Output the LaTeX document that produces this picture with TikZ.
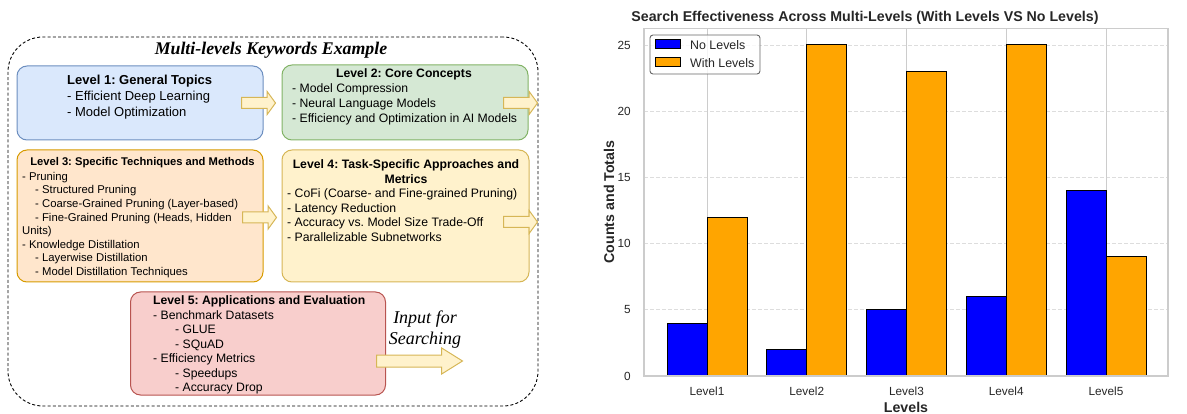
\documentclass[tikz,border=0pt]{standalone}
\usepackage{fontspec}
\setmainfont{Liberation Sans}
\newfontfamily\timesfont{Liberation Serif}
\usetikzlibrary{shapes.arrows}
\frenchspacing

\definecolor{genFill}{HTML}{DAE8FC}
\definecolor{genLine}{HTML}{6C8EBF}
\definecolor{coreFill}{HTML}{D5E8D4}
\definecolor{coreLine}{HTML}{82B366}
\definecolor{techFill}{HTML}{FFE6CC}
\definecolor{techLine}{HTML}{D79B00}
\definecolor{taskFill}{HTML}{FFF2CC}
\definecolor{taskLine}{HTML}{D6B656}
\definecolor{appsFill}{HTML}{F8CECC}
\definecolor{appsLine}{HTML}{B85450}
\definecolor{noBlue}{HTML}{0000FF}
\definecolor{withOrange}{HTML}{FFA500}
\definecolor{gridGray}{HTML}{DDDDDD}
\definecolor{spineGray}{HTML}{CCCCCC}
\definecolor{inkGray}{HTML}{262626}

\begin{document}
\begin{tikzpicture}[x=1pt, y=-1pt]
	\useasboundingbox (0,0) rectangle (1187,414);
	
	% Styles for the keyword boxes
	\tikzstyle{frame} = [rectangle, rounded corners=35pt, draw, line width=0.9pt, dash pattern=on 3pt off 2.2pt]
	\tikzstyle{level} = [rectangle, rounded corners=10pt, draw, line width=1pt]
	\tikzstyle{heading} = [inner sep=0pt, anchor=base]
	\tikzstyle{items} = [inner sep=0pt, align=left, anchor=north west]
	\tikzstyle{pointer} = [single arrow, draw=taskLine, fill=taskFill, line width=1pt, anchor=tail,
	inner xsep=0pt, inner ysep=5pt, minimum height=34pt,
	single arrow head extend=6pt, single arrow tip angle=108]
	
	% Outer dashed frame and title
	\node[frame, minimum width=530pt, minimum height=369pt] (keyframe) at (273,221.5) {};
	\node[heading, font=\timesfont\fontsize{17.8}{20}\selectfont\bfseries\itshape] (frametitle) at (271,55) {Multi-levels Keywords Example};
	
	% Level boxes
	\node[level, fill=genFill, draw=genLine, minimum width=246pt, minimum height=74pt] (general) at (140,103) {};
	\node[level, fill=coreFill, draw=coreLine, minimum width=246pt, minimum height=75pt] (core) at (405,102.5) {};
	\node[level, fill=techFill, draw=techLine, minimum width=246pt, minimum height=132pt] (tech) at (140,216) {};
	\node[level, fill=taskFill, draw=taskLine, minimum width=247pt, minimum height=132pt] (task) at (405.5,216) {};
	\node[level, fill=appsFill, draw=appsLine, minimum width=255pt, minimum height=103pt] (apps) at (258,343.5) {};
	
	% Box texts
	\node[items, font=\fontsize{13}{16}\selectfont] (generaltxt) at (67,75.3) {\textbf{Level 1: General Topics}\\- Efficient Deep Learning\\- Model Optimization};
	
	\node[heading, font=\fontsize{12.2}{15}\selectfont\bfseries] (coretitle) at (404,77.3) {Level 2: Core Concepts};
	\node[items, font=\fontsize{12.2}{15}\selectfont] (coretxt) at (292,83.6) {- Model Compression\\- Neural Language Models\\- Efficiency and Optimization in AI Models};
	
	\node[heading, font=\fontsize{11.2}{13.6}\selectfont\bfseries] (techtitle) at (142.5,165.1) {Level 3: Specific Techniques and Methods};
	\node[items, font=\fontsize{11.3}{13.6}\selectfont] (techtxt) at (22,171.9) {- Pruning\\\hspace{13pt}- Structured Pruning\\\hspace{13pt}- Coarse-Grained Pruning (Layer-based)\\\hspace{13pt}- Fine-Grained Pruning (Heads, Hidden\\Units)\\- Knowledge Distillation\\\hspace{13pt}- Layerwise Distillation\\\hspace{13pt}- Model Distillation Techniques};
	
	\node[heading, align=center, anchor=north, font=\fontsize{12.25}{14.5}\selectfont\bfseries] (tasktitle) at (406,159.6) {Level 4: Task-Specific Approaches and\\Metrics};
	\node[items, font=\fontsize{12.25}{14.6}\selectfont] (tasktxt) at (287,188.6) {- CoFi (Coarse- and Fine-grained Pruning)\\- Latency Reduction\\- Accuracy vs. Model Size Trade-Off\\- Parallelizable Subnetworks};
	
	\node[items, font=\fontsize{12.2}{14.5}\selectfont] (appstxt) at (153,295.7) {\textbf{Level 5: Applications and Evaluation}\\- Benchmark Datasets\\\hspace{22pt}- GLUE\\\hspace{22pt}- SQuAD\\- Efficiency Metrics\\\hspace{22pt}- Speedups\\\hspace{22pt}- Accuracy Drop};
	
	\node[inner sep=0pt, align=center, anchor=north, font=\timesfont\fontsize{18}{21}\selectfont\itshape] (searchtxt) at (425,311) {Input for\\Searching};
	
	% Block arrows
	\node[pointer] (tocore) at (241,103) {};
	\node[pointer] (fromcore) at (503,103) {};
	\node[pointer] (totask) at (242,217.5) {};
	\node[pointer] (fromtask) at (503,222) {};
	\node[pointer, minimum height=86pt, inner ysep=5.5pt, single arrow head extend=7pt, single arrow tip angle=64] (tosearch) at (376,361) {};
	
	% Chart styles
	\tikzstyle{hgrid} = [gridGray, line width=0.8pt, dash pattern=on 4pt off 2pt]
	\tikzstyle{vgrid} = [spineGray, line width=0.8pt]
	\tikzstyle{bar} = [draw=black, line width=1pt]
	\tikzstyle{tick} = [inner sep=0pt, text=inkGray, font=\fontsize{11.8}{14}\selectfont]
	\tikzstyle{axislabel} = [inner sep=0pt, anchor=base, text=inkGray, font=\fontsize{14.2}{17}\selectfont\bfseries]
	
	\node[axislabel] (charttitle) at (865,21.6) {Search Effectiveness Across Multi-Levels (With Levels VS No Levels)};
	
	\begin{scope}[shift={(0,376)}, y=13.24pt]
		% Grid
		\draw[hgrid] (644,5) -- (1168,5);
		\draw[hgrid] (644,10) -- (1168,10);
		\draw[hgrid] (644,15) -- (1168,15);
		\draw[hgrid] (644,20) -- (1168,20);
		\draw[hgrid] (644,25) -- (1168,25);
		\draw[vgrid] (707,0) -- (707,26.25);
		\draw[vgrid] (806.75,0) -- (806.75,26.25);
		\draw[vgrid] (906.5,0) -- (906.5,26.25);
		\draw[vgrid] (1006.25,0) -- (1006.25,26.25);
		\draw[vgrid] (1106,0) -- (1106,26.25);
		
		% Bars: No Levels
		\draw[bar, fill=noBlue] (667,0) rectangle (707,4);
		\draw[bar, fill=noBlue] (766.75,0) rectangle (806.75,2);
		\draw[bar, fill=noBlue] (866.5,0) rectangle (906.5,5);
		\draw[bar, fill=noBlue] (966.25,0) rectangle (1006.25,6);
		\draw[bar, fill=noBlue] (1066,0) rectangle (1106,14);
		
		% Bars: With Levels
		\draw[bar, fill=withOrange] (707,0) rectangle (747,12);
		\draw[bar, fill=withOrange] (806.75,0) rectangle (846.75,25);
		\draw[bar, fill=withOrange] (906.5,0) rectangle (946.5,23);
		\draw[bar, fill=withOrange] (1006.25,0) rectangle (1046.25,25);
		\draw[bar, fill=withOrange] (1106,0) rectangle (1146,9);
		
		% Axes frame
		\draw[spineGray, line width=1.1pt] (644,0) rectangle (1168,26.25);
		
		% Tick labels
		\node[tick, anchor=east] (ytick0) at (631,0) {0};
		\node[tick, anchor=east] (ytick5) at (631,5) {5};
		\node[tick, anchor=east] (ytick10) at (631,10) {10};
		\node[tick, anchor=east] (ytick15) at (631,15) {15};
		\node[tick, anchor=east] (ytick20) at (631,20) {20};
		\node[tick, anchor=east] (ytick25) at (631,25) {25};
	\end{scope}
	
	\node[tick, anchor=base] (xtick1) at (707,395.5) {Level1};
	\node[tick, anchor=base] (xtick2) at (806.75,395.5) {Level2};
	\node[tick, anchor=base] (xtick3) at (906.5,395.5) {Level3};
	\node[tick, anchor=base] (xtick4) at (1006.25,395.5) {Level4};
	\node[tick, anchor=base] (xtick5) at (1106,395.5) {Level5};
	
	\node[axislabel] (xlabel) at (906,412.5) {Levels};
	\node[axislabel, rotate=90] (ylabel) at (614,202) {Counts and Totals};
	
	% Legend
	\node[rectangle, rounded corners=3pt, draw=black!60, fill=white, fill opacity=0.8, line width=0.9pt, minimum width=110pt, minimum height=39pt] (legend) at (705,54.5) {};
	\node[bar, fill=noBlue, minimum width=25pt, minimum height=9pt, inner sep=0pt] (nokey) at (667.5,44.5) {};
	\node[bar, fill=withOrange, minimum width=25pt, minimum height=9pt, inner sep=0pt] (withkey) at (667.5,62.5) {};
	\node[tick, anchor=west, font=\fontsize{12.4}{15}\selectfont] (nolabel) at (690,45) {No Levels};
	\node[tick, anchor=west, font=\fontsize{12.4}{15}\selectfont] (withlabel) at (690,63) {With Levels};
	
\end{tikzpicture}
\end{document}
